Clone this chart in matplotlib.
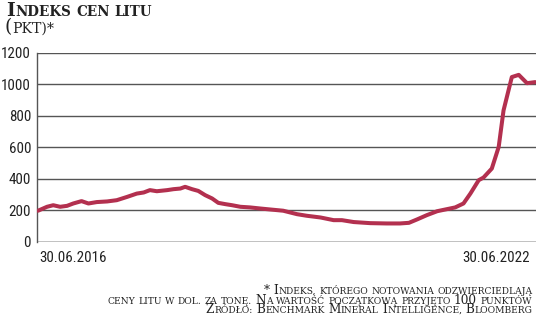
import matplotlib
matplotlib.use('Agg')
import matplotlib.pyplot as plt

# months since 30.06.2016 and index value (pkt)
months = [0, 1.3, 2.2, 3.2, 4.2, 5.1, 6.3, 7.3, 8.5, 10.0, 11.4, 12.9, 14.3, 15.3,
          16.2, 17.2, 18.7, 19.6, 20.6, 21.3, 22.3, 23.2, 24.2, 25.2, 26.1, 27.1,
          28.1, 29.3, 30.7, 32.2, 33.6, 35.5, 37.5, 38.9, 40.9, 42.8, 44.0, 45.7,
          48.1, 50.5, 52.4, 53.7, 54.9, 56.3, 57.8, 59.2, 60.4, 61.6, 62.6, 63.8,
          64.5, 65.7, 66.7, 67.4, 68.0, 68.6, 69.6, 70.8, 72.0]
values = [197, 222, 232, 222, 228, 243, 258, 243, 252, 256, 264, 285, 306, 313,
          328, 321, 328, 334, 338, 349, 334, 323, 296, 275, 247, 239, 232, 222,
          218, 211, 205, 197, 175, 165, 154, 137, 137, 125, 118, 116, 116, 120,
          142, 169, 194, 207, 218, 243, 306, 391, 408, 465, 603, 835, 941, 1047,
          1061, 1008, 1015]
yticks = [0, 200, 400, 600, 800, 1000, 1200]
first_label = '30.06.2016'
last_label = '30.06.2022'

title = 'Indeks cen litu'
unit = '(pkt)*'
notes = ['* Indeks, którego notowania odzwierciedlają',
         'ceny litu w dol. za tonę. Na wartość początkową przyjęto 100 punktów',
         'Źródło: Benchmark Mineral Intelligence, Bloomberg']

RED = '#b3304f'
INK = '#222222'
GRID = '#555555'
SERIF = 'DejaVu Serif'
NUM_FONT = ['Roboto Condensed', 'DejaVu Sans']

W, H = 536, 318
fig = plt.figure(figsize=(W / 100, H / 100), dpi=100)
renderer = fig.canvas.get_renderer()


def runs(s):
    # lowercase -> small caps, capitals/digits stay big, spaces handled apart
    out = []
    for ch in s:
        if ch == ' ':
            kind = 'space'
        elif ch.islower():
            kind = 'small'
        elif ch.isupper() or ch.isdigit():
            kind = 'big'
        else:
            kind = out[-1][1] if out and out[-1][1] != 'space' else 'big'
        if out and out[-1][1] == kind:
            out[-1][0] += ch
        else:
            out.append([ch, kind])
    return out


def text_width(s, fs, weight):
    t = fig.text(0, 0, s, fontsize=fs, family=SERIF, fontweight=weight)
    w = t.get_window_extent(renderer).width
    t.remove()
    return w


def place(x, y, s, size, weight, align, ratio):
    space = text_width('H H', size * ratio, weight) - text_width('HH', size * ratio, weight)
    items = []
    total = 0
    for txt, kind in runs(s):
        if kind == 'space':
            w = len(txt) * space
            items.append((None, w))
        else:
            fs = size * ratio if kind == 'small' else size
            t = fig.text(0, 1 - y / H, txt.upper(), fontsize=fs, family=SERIF,
                         fontweight=weight, color=INK, va='baseline', ha='left')
            w = t.get_window_extent(renderer).width + 0.4
            items.append((t, w))
        total += w
    cur = x if align == 'left' else x - total
    for t, w in items:
        if t is not None:
            t.set_x(cur / W)
        cur += w
    return items, total


def small_caps(x, y, s, size, weight='normal', align='left', ratio=0.75, width=None):
    # x, y in pixels from top-left, y is the baseline; width fits the size
    items, total = place(x, y, s, size, weight, align, ratio)
    if width is not None:
        for t, w in items:
            if t is not None:
                t.remove()
        size = size * width / total
        place(x, y, s, size, weight, align, ratio)
    return size


ax = fig.add_axes([37 / W, (H - 241.7) / H, (W - 37) / W, (241.7 - 53) / H])

ax.plot(months, values, color=RED, lw=2.9, solid_joinstyle='round',
        solid_capstyle='round', zorder=3)
ax.set_xlim(-0.15, 72.1)
ax.set_ylim(0, 1200)
ax.set_yticks(yticks)
ax.set_yticklabels([str(v) for v in yticks], fontsize=10.8, family=NUM_FONT,
                   color=INK)
ax.tick_params(axis='y', length=0, pad=4.3)
ax.set_xticks([])
for s in ['top', 'right', 'bottom']:
    ax.spines[s].set_visible(False)
ax.spines['left'].set_color(GRID)
ax.spines['left'].set_linewidth(1.0)
ax.grid(axis='y', color=GRID, lw=1.0)
ax.set_axisbelow(True)
ax.axhline(0, color=GRID, lw=1.0, zorder=1)

fig.text(39 / W, 1 - 262 / H, first_label, fontsize=10.8, family=NUM_FONT,
         color=INK, ha='left', va='baseline')
fig.text(530 / W, 1 - 262 / H, last_label, fontsize=10.8, family=NUM_FONT,
         color=INK, ha='right', va='baseline')

small_caps(6, 16.5, title, 14, weight='bold', ratio=0.73, width=148)
small_caps(5, 32.5, unit, 14, width=50)

fs = small_caps(532, 303.5, notes[1], 9, align='right', width=426)
small_caps(533, 294, notes[0], fs, align='right')
small_caps(533, 313, notes[2], fs, align='right')

fig.savefig('out.png', dpi=100)
